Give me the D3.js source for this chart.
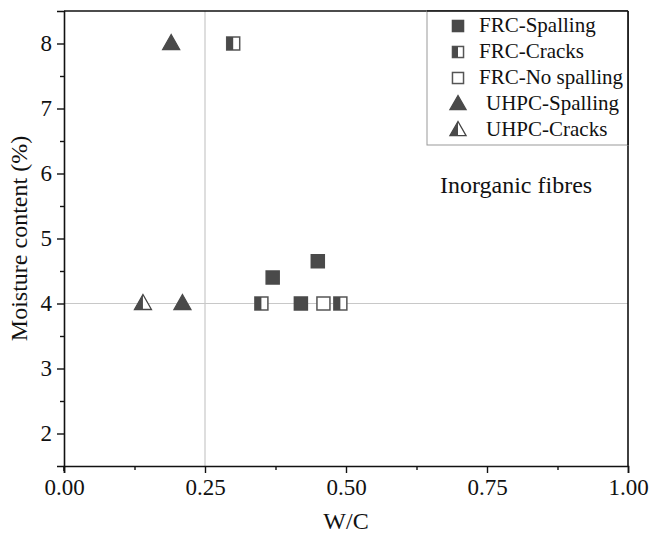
<!DOCTYPE html>
<html><head><meta charset="utf-8">
<script src="https://cdn.jsdelivr.net/npm/d3@7"></script>
<style>body{margin:0;background:#fff} svg{display:block}</style>
</head><body><svg id="c" width="650" height="541"></svg>
<script>
// ---- data ----
const seriesNames = ["FRC-Spalling", "FRC-Cracks", "FRC-No spalling", "UHPC-Spalling", "UHPC-Cracks"];
const frcSpallingWC = [0.37, 0.45, 0.42];
const frcSpallingMC = [4.4, 4.65, 4.0];
const frcCracksWC = [0.30, 0.35, 0.49];
const frcCracksMC = [8.0, 4.0, 4.0];
const frcNoSpallingWC = [0.46];
const frcNoSpallingMC = [4.0];
const uhpcSpallingWC = [0.19, 0.21];
const uhpcSpallingMC = [8.0, 4.0];
const uhpcCracksWC = [0.14];
const uhpcCracksMC = [4.0];
const xTicks = [0, 0.25, 0.5, 0.75, 1.0];
const yTicks = [2, 3, 4, 5, 6, 7, 8];
const refWC = 0.25, refMC = 4;

const series = [
  {name: seriesNames[0], shape: "square", fill: "full", xs: frcSpallingWC, ys: frcSpallingMC},
  {name: seriesNames[1], shape: "square", fill: "half", xs: frcCracksWC, ys: frcCracksMC},
  {name: seriesNames[2], shape: "square", fill: "none", xs: frcNoSpallingWC, ys: frcNoSpallingMC},
  {name: seriesNames[3], shape: "triangle", fill: "full", xs: uhpcSpallingWC, ys: uhpcSpallingMC},
  {name: seriesNames[4], shape: "triangle", fill: "half", xs: uhpcCracksWC, ys: uhpcCracksMC}
];

const svg = d3.select("#c");
const L = 64, R = 628, T = 11, B = 466;
const x = d3.scaleLinear().domain([0, 1]).range([L, R]);
const y = d3.scaleLinear().domain([1.5, 8.5]).range([B, T]);
const FONT = "'Liberation Serif','Times New Roman',serif";
const DARK = "#4a4a4a";

// gridlines
svg.append("line").attr("x1", x(refWC)).attr("x2", x(refWC)).attr("y1", T).attr("y2", B)
  .attr("stroke", "#c8c8c8").attr("stroke-width", 1.2);
svg.append("line").attr("x1", L).attr("x2", R).attr("y1", y(refMC)).attr("y2", y(refMC))
  .attr("stroke", "#c8c8c8").attr("stroke-width", 1.2);

// frame
svg.append("line").attr("x1", L).attr("x2", R).attr("y1", T).attr("y2", T).attr("stroke", "#111").attr("stroke-width", 1.6);
svg.append("line").attr("x1", R).attr("x2", R).attr("y1", T).attr("y2", B).attr("stroke", "#111").attr("stroke-width", 1.6);

// axes
const xAxis = d3.axisBottom(x).tickValues(xTicks).tickFormat(d3.format(".2f")).tickSize(7).tickPadding(6);
svg.append("g").attr("transform", `translate(0,${B})`).call(xAxis);
const xMinor = d3.axisBottom(x).tickValues([0.125, 0.375, 0.625, 0.875]).tickFormat("").tickSize(4);
svg.append("g").attr("transform", `translate(0,${B})`).call(xMinor).select(".domain").remove();

const yAxis = d3.axisLeft(y).tickValues(yTicks).tickFormat(d3.format("d")).tickSize(7).tickPadding(5);
svg.append("g").attr("transform", `translate(${L},0)`).call(yAxis);
const yMinor = d3.axisLeft(y).tickValues([2.5, 3.5, 4.5, 5.5, 6.5, 7.5]).tickFormat("").tickSize(4);
svg.append("g").attr("transform", `translate(${L},0)`).call(yMinor).select(".domain").remove();

svg.selectAll(".domain").attr("stroke", "#111").attr("stroke-width", 1.6);
svg.selectAll(".tick line").attr("stroke", "#111").attr("stroke-width", 1.4);
svg.selectAll(".tick text").attr("font-family", FONT).attr("font-size", 23).attr("fill", "#111");
svg.append("line").attr("x1", L).attr("x2", L).attr("y1", B).attr("y2", B + 5).attr("stroke", "#111").attr("stroke-width", 1.6);

// titles
svg.append("text").attr("x", (L + R) / 2).attr("y", 529).attr("text-anchor", "middle")
  .attr("font-family", FONT).attr("font-size", 24).attr("fill", "#111").text("W/C");
svg.append("text").attr("transform", `translate(27,${(T + B) / 2}) rotate(-90)`).attr("text-anchor", "middle")
  .attr("font-family", FONT).attr("font-size", 24).attr("fill", "#111").text("Moisture content (%)");
svg.append("text").attr("x", 440).attr("y", 193)
  .attr("font-family", FONT).attr("font-size", 24).attr("fill", "#111").text("Inorganic fibres");

// markers
function marker(g, shape, fill, cx, cy, k) {
  k = k || 1;
  if (shape === "square") {
    const s = 13 * k;
    g.append("rect").attr("x", cx - s / 2).attr("y", cy - s / 2).attr("width", s).attr("height", s)
      .attr("fill", fill === "full" ? DARK : "#fff").attr("stroke", fill === "full" ? DARK : "#555").attr("stroke-width", 1.5);
    if (fill === "half") {
      g.append("rect").attr("x", cx - s / 2).attr("y", cy - s / 2).attr("width", s / 2).attr("height", s)
        .attr("fill", DARK);
    }
  } else {
    const w = 17 * k, h = 15 * k;
    const top = cy - h * 0.6, bot = cy + h * 0.4;
    const pts = [[cx, top], [cx - w / 2, bot], [cx + w / 2, bot]];
    g.append("polygon").attr("points", pts.map(p => p.join(",")).join(" "))
      .attr("fill", fill === "full" ? DARK : "#fff").attr("stroke", fill === "full" ? DARK : "#444")
      .attr("stroke-width", 1.3);
    if (fill === "half") {
      g.append("polygon").attr("points", [[cx, top], [cx - w / 2, bot], [cx, bot]].map(p => p.join(",")).join(" "))
        .attr("fill", DARK);
    }
  }
}

const gm = svg.append("g");
series.forEach(s => {
  s.xs.forEach((v, i) => marker(gm, s.shape, s.fill, x(v), y(s.ys[i])));
});

// legend
const lg = svg.append("g");
lg.append("rect").attr("x", 427).attr("y", T).attr("width", R - 427).attr("height", 134)
  .attr("fill", "#fff").attr("stroke", "#999").attr("stroke-width", 1);
series.forEach((s, i) => {
  const cy = 25 + i * 26;
  marker(lg, s.shape, s.fill, 458, cy + 1, s.shape === "square" ? 0.85 : 0.95);
  lg.append("text").attr("x", s.shape === "square" ? 479 : 486).attr("y", cy + 7)
    .attr("font-family", FONT).attr("font-size", 21).attr("fill", "#111").text(s.name);
});
svg.append("line").attr("x1", 427).attr("x2", R).attr("y1", T).attr("y2", T).attr("stroke", "#111").attr("stroke-width", 1.6);
svg.append("line").attr("x1", R).attr("x2", R).attr("y1", T).attr("y2", 145).attr("stroke", "#111").attr("stroke-width", 1.6);
</script></body></html>
